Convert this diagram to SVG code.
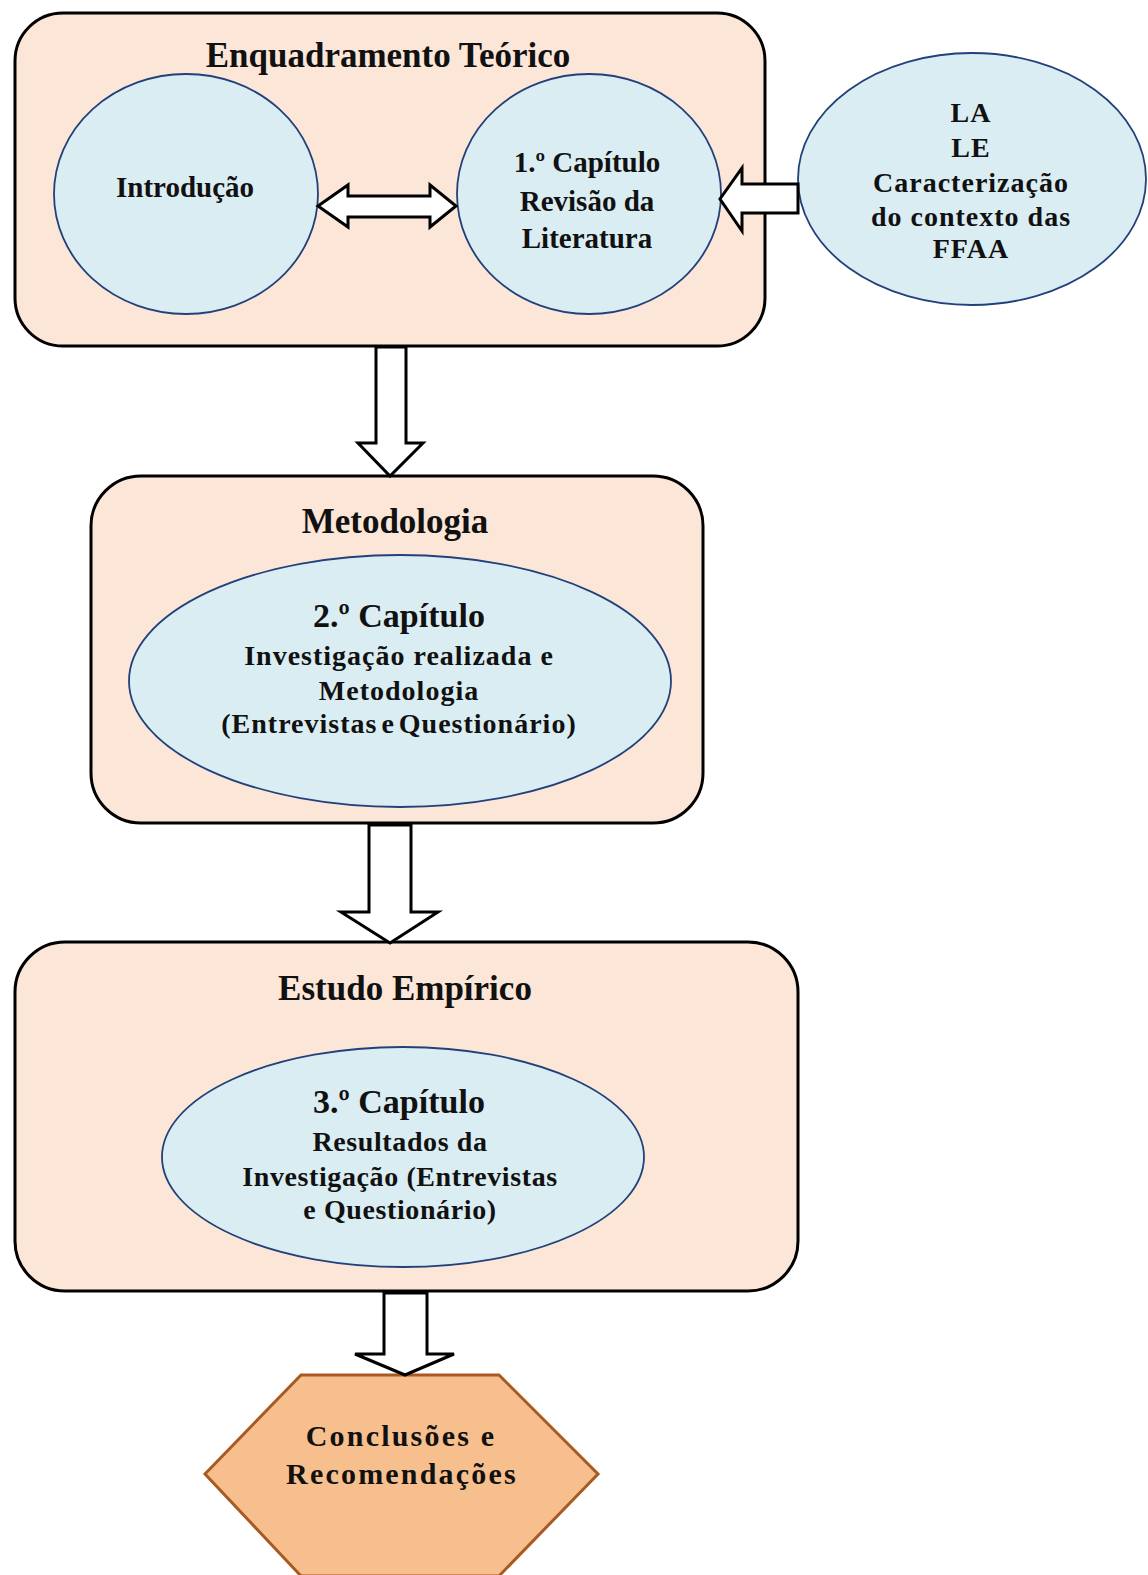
<svg xmlns="http://www.w3.org/2000/svg" width="1148" height="1575" viewBox="0 0 1148 1575">
  <defs>
    <style>
      .box { fill: #FCE6D7; stroke: #000; stroke-width: 3; }
      .ell { fill: #DAEDF3; stroke: #22407A; stroke-width: 1.8; }
      .blk { fill: #fff; stroke: #000; stroke-width: 3; stroke-linejoin: miter; }
      .hex { fill: #F8BF8E; stroke: #A85A22; stroke-width: 3; }
      text { font-family: "Liberation Serif", "Times New Roman", serif; font-weight: bold; fill: #111; text-anchor: middle; }
      .ttl { font-size: 35px; }
      .t29 { font-size: 29px; }
      .cap { font-size: 34px; }
      .sp1 { font-size: 28px; letter-spacing: 1px; }
      .sp06 { font-size: 28px; letter-spacing: 0.6px; }
      .sp2 { font-size: 30px; letter-spacing: 2.2px; }
    </style>
  </defs>

  <rect width="1148" height="1575" fill="#fff"/>

  <!-- Enquadramento Teórico -->
  <g id="enquadramento">
    <rect class="box" x="15" y="13" width="750" height="333" rx="48" ry="48"/>
    <text class="ttl" x="388" y="67">Enquadramento Teórico</text>
  </g>
  <g id="introducao">
    <ellipse class="ell" cx="186" cy="194" rx="132" ry="120"/>
    <text class="t29" x="185" y="197">Introdução</text>
  </g>
  <g id="capitulo1">
    <ellipse class="ell" cx="589" cy="194" rx="132" ry="120"/>
    <text class="t29" x="587" y="172">1.º Capítulo</text>
    <text class="t29" x="587" y="211">Revisão da</text>
    <text class="t29" x="587" y="248">Literatura</text>
  </g>
  <g id="contexto">
    <ellipse class="ell" cx="972" cy="179" rx="174" ry="126"/>
    <text class="sp1" x="971" y="122">LA</text>
    <text class="sp1" x="971" y="157">LE</text>
    <text class="sp1" x="971" y="192">Caracterização</text>
    <text class="sp1" x="971" y="226">do contexto das</text>
    <text class="sp1" x="971" y="258">FFAA</text>
  </g>

  <!-- Metodologia -->
  <g id="metodologia">
    <rect class="box" x="91" y="476" width="612" height="347" rx="50" ry="50"/>
    <text class="ttl" x="395" y="533">Metodologia</text>
  </g>
  <g id="capitulo2">
    <ellipse class="ell" cx="400" cy="681" rx="271" ry="126"/>
    <text class="cap" x="399" y="627">2.º Capítulo</text>
    <text class="sp1" x="399" y="665">Investigação realizada e</text>
    <text class="sp1" x="399" y="700">Metodologia</text>
    <text class="sp1" x="399" y="733" word-spacing="-4">(Entrevistas e Questionário)</text>
  </g>

  <!-- Estudo Empírico -->
  <g id="estudo">
    <rect class="box" x="15" y="942" width="783" height="349" rx="50" ry="50"/>
    <text class="ttl" x="405" y="1000">Estudo Empírico</text>
  </g>
  <g id="capitulo3">
    <ellipse class="ell" cx="403" cy="1157" rx="241" ry="110"/>
    <text class="cap" x="399" y="1113">3.º Capítulo</text>
    <text class="sp06" x="400" y="1151">Resultados da</text>
    <text class="sp06" x="400" y="1186">Investigação (Entrevistas</text>
    <text class="sp06" x="400" y="1219">e Questionário)</text>
  </g>

  <!-- Conclusões -->
  <g id="conclusoes">
    <polygon class="hex" points="301,1375 499,1375 598,1474 499,1576 301,1576 205,1474"/>
    <text class="sp2" x="401" y="1446">Conclusões e</text>
    <text class="sp2" x="402" y="1484">Recomendações</text>
  </g>

  <!-- block arrows -->
  <g id="connectors">
    <path class="blk" d="M318,206 L348,185 L348,196 L430,196 L430,185 L456,206 L430,227 L430,217 L348,217 L348,227 Z"/>
    <path class="blk" d="M798,184 L742,184 L742,168 L720,199 L742,231 L742,213 L798,213 Z"/>
    <path class="blk" d="M376,347 L376,443 L358,443 L390,476 L423,443 L406,443 L406,347 Z"/>
    <path class="blk" d="M369,825 L369,912 L341,912 L390,943 L438,912 L411,912 L411,825 Z"/>
    <path class="blk" d="M384,1293 L384,1354 L355,1354 L405,1375 L454,1354 L427,1354 L427,1293 Z"/>
  </g>
</svg>
